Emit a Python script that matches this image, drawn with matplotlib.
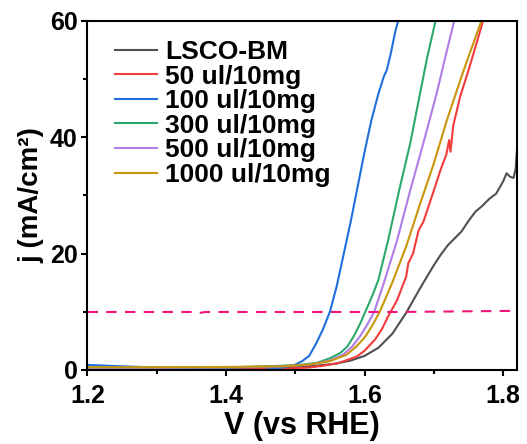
import matplotlib
matplotlib.use('Agg')
import matplotlib.pyplot as plt
from matplotlib.ticker import MultipleLocator

plt.rcParams['font.family'] = ['Liberation Sans', 'DejaVu Sans']
plt.rcParams['font.weight'] = 'bold'

# LSV curves
v_bm = [1.20, 1.30, 1.40, 1.48, 1.53, 1.56, 1.58, 1.60, 1.62, 1.64, 1.66, 1.68,
        1.70, 1.71, 1.72, 1.73, 1.74, 1.75, 1.76, 1.77, 1.78, 1.79, 1.80, 1.805,
        1.81, 1.815, 1.818, 1.82]
j_bm = [0.3, 0.3, 0.3, 0.4, 0.7, 1.1, 1.6, 2.4, 3.8, 6.2, 9.8, 14.0,
        18.0, 19.8, 21.4, 22.6, 23.8, 25.6, 27.2, 28.2, 29.4, 30.3, 32.4, 33.8,
        33.2, 33.0, 34.5, 37.8]

v_50 = [1.20, 1.30, 1.40, 1.48, 1.52, 1.54, 1.56, 1.575, 1.589, 1.60, 1.615, 1.625,
        1.634, 1.647, 1.655, 1.66, 1.663, 1.67, 1.678, 1.685, 1.699, 1.71, 1.718,
        1.722, 1.724, 1.728, 1.738, 1.75, 1.76, 1.771]
j_50 = [0.1, 0.05, 0.0, 0.2, 0.4, 0.7, 1.1, 1.7, 2.3, 3.3, 5.2, 7.0,
        9.2, 12.0, 14.5, 16.0, 18.3, 20.0, 24.0, 25.5, 30.5, 34.5, 37.0,
        39.5, 37.5, 42.0, 47.0, 51.5, 55.5, 60.0]

v_100 = [1.20, 1.25, 1.30, 1.35, 1.40, 1.44, 1.47, 1.49, 1.50, 1.51, 1.52, 1.53,
         1.54, 1.55, 1.56, 1.57, 1.58, 1.59, 1.60, 1.61, 1.62, 1.628, 1.632,
         1.638, 1.644, 1.648]
j_100 = [0.86, 0.6, 0.4, 0.1, -0.3, -0.2, 0.2, 0.6, 0.9, 1.5, 2.4, 4.5,
         7.0, 10.0, 14.5, 20.0, 25.5, 31.5, 37.5, 43.0, 47.5, 50.5, 51.5,
         54.5, 58.0, 59.8]

v_300 = [1.20, 1.30, 1.40, 1.48, 1.51, 1.531, 1.55, 1.565, 1.575, 1.584, 1.593,
         1.603, 1.612, 1.620, 1.634, 1.650, 1.666, 1.680, 1.690, 1.702]
j_300 = [0.4, 0.4, 0.4, 0.7, 0.9, 1.2, 2.0, 2.9, 4.0, 5.7, 7.8,
         10.5, 13.0, 15.5, 22.3, 30.9, 39.0, 47.5, 53.5, 59.8]

v_500 = [1.20, 1.30, 1.40, 1.48, 1.52, 1.55, 1.569, 1.582, 1.593, 1.604, 1.614,
         1.628, 1.647, 1.666, 1.686, 1.704, 1.717, 1.729]
j_500 = [0.3, 0.35, 0.4, 0.6, 0.9, 1.6, 2.6, 4.0, 5.7, 7.8, 10.0,
         15.0, 22.3, 30.9, 39.5, 47.5, 54.0, 59.8]

v_1000 = [1.20, 1.30, 1.40, 1.48, 1.52, 1.55, 1.574, 1.588, 1.601, 1.612, 1.622,
          1.64, 1.66, 1.68, 1.70, 1.719, 1.743, 1.768]
j_1000 = [0.45, 0.45, 0.5, 0.6, 0.9, 1.5, 2.6, 4.0, 5.7, 7.8, 10.0,
          15.0, 21.2, 28.5, 35.5, 43.0, 51.5, 59.8]

# 10 mA/cm2 reference line
v_ref = [1.20, 1.355, 1.36, 1.37, 1.65, 1.82]
j_ref = [9.95, 9.95, 9.75, 9.95, 9.95, 10.15]

labels = ['LSCO-BM', '50 ul/10mg', '100 ul/10mg', '300 ul/10mg',
          '500 ul/10mg', '1000 ul/10mg']
colors = ['#505050', '#f23c3c', '#1f6fdc', '#2ca86a', '#b07de8', '#c8960a']
series = [(v_bm, j_bm), (v_50, j_50), (v_100, j_100), (v_300, j_300),
          (v_500, j_500), (v_1000, j_1000)]

fig = plt.figure(figsize=(5.27, 4.44), dpi=100)
ax = fig.add_axes([0.166, 0.167, 0.815, 0.786])

for (v, j), lab, c in zip(series, labels, colors):
    ax.plot(v, j, color=c, lw=1.5, label=lab)

ax.plot(v_ref, j_ref, color='#f0147a', lw=1.5, ls=(0, (5, 4)))

ax.set_xlim(1.2, 1.82)
ax.set_ylim(0, 60)
ax.xaxis.set_major_locator(MultipleLocator(0.2))
ax.xaxis.set_minor_locator(MultipleLocator(0.1))
ax.yaxis.set_major_locator(MultipleLocator(20))
ax.yaxis.set_minor_locator(MultipleLocator(10))
ax.set_xticks([1.2, 1.4, 1.6, 1.8])
ax.set_xticklabels(['1.2', '1.4', '1.6', '1.8'])

for s in ax.spines.values():
    s.set_linewidth(1.5)
ax.tick_params(which='major', length=4, width=1.5, labelsize=18)
ax.tick_params(axis='x', which='major', pad=6)
ax.tick_params(axis='y', which='major', pad=3)
ax.tick_params(which='minor', length=3, width=1.5)

ax.set_xlabel('V (vs RHE)', fontsize=22, fontweight='bold', labelpad=2)
ax.set_ylabel('j (mA/cm²)', fontsize=20, fontweight='bold', labelpad=4)

ax.legend(loc='upper left', bbox_to_anchor=(0.04, 0.975), frameon=False,
          fontsize=19, handlelength=1.6, handletextpad=0.3,
          labelspacing=0.02, borderaxespad=0)

fig.savefig('out.png', dpi=100)
